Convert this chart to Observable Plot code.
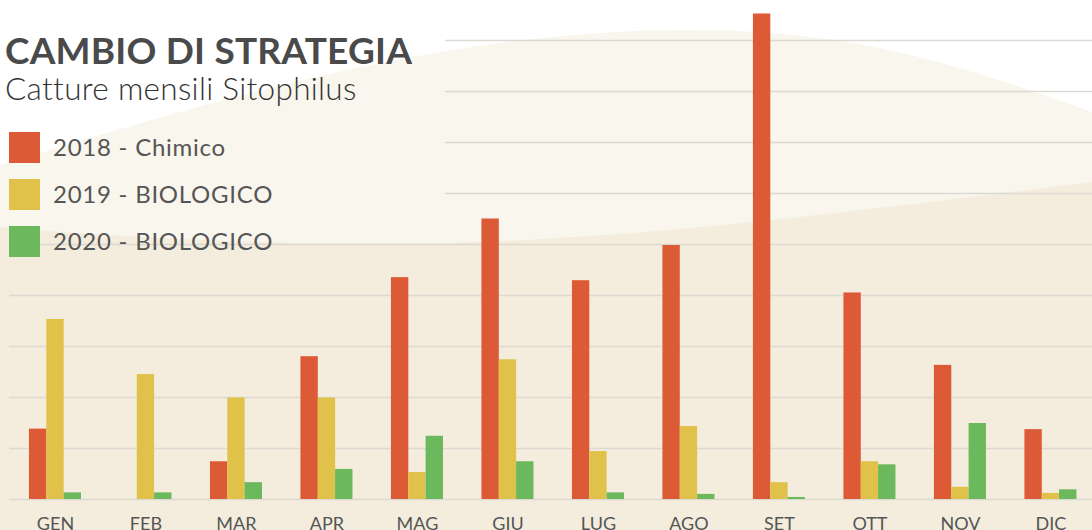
<!DOCTYPE html>
<html>
<head>
<meta charset="utf-8">
<script src="https://cdn.jsdelivr.net/npm/d3@7"></script>
<script src="https://cdn.jsdelivr.net/npm/@observablehq/plot@0.6"></script>
<style>
  html, body { margin: 0; padding: 0; background: #ffffff; }
  #wrap { position: relative; width: 1092px; height: 530px; overflow: hidden; font-family: Lato, "Noto Sans", sans-serif; }
  #bg { position: absolute; left: 0; top: 0; }
  #chart { position: absolute; left: 0; top: 0; }
  .title { position: absolute; left: 5px; top: 30.5px; font-size: 37px; line-height: 37px; font-weight: 700; color: #4a4a4a; white-space: nowrap; letter-spacing: 0.2px; }
  .subtitle { position: absolute; left: 5px; top: 72.5px; font-size: 31.5px; line-height: 31.5px; font-weight: 300; color: #333333; white-space: nowrap; letter-spacing: 0.3px; }
  .legend { position: absolute; left: 9px; top: 132px; }
  .item { position: relative; height: 47px; }
  .sw { position: absolute; left: 0; top: 0; width: 31px; height: 31px; }
  .lab { position: absolute; left: 44px; top: 2.7px; font-size: 24px; line-height: 24px; color: #555555; white-space: nowrap; letter-spacing: 0.75px; }
</style>
</head>
<body>
<div id="wrap">
  <svg id="bg" width="1092" height="530" viewBox="0 0 1092 530">
    <rect x="0" y="0" width="1092" height="530" fill="#ffffff"></rect>
    <path d="M0,165 C180,112 420,32 680,30 C850,28 960,65 1092,112 L1092,530 L0,530 Z" fill="#f9f6ee"></path>
    <path d="M0,227 C150,240 300,245 430,243 C650,240 900,205 1092,182 L1092,530 L0,530 Z" fill="#f4eddd"></path>
  </svg>
  <div id="chart"></div>
  <div class="title">CAMBIO DI STRATEGIA</div>
  <div class="subtitle">Catture mensili Sitophilus</div>
  <div class="legend" id="legend"></div>
</div>
<script>
// Data
const months = ["GEN", "FEB", "MAR", "APR", "MAG", "GIU", "LUG", "AGO", "SET", "OTT", "NOV", "DIC"];
const series = ["2018 - Chimico", "2019 - BIOLOGICO", "2020 - BIOLOGICO"];
const colors = ["#dc5b36", "#e0c24a", "#6cb85c"];
const v2018 = [13.8, 0, 7.4, 28.0, 43.5, 55.0, 42.9, 49.8, 95.2, 40.5, 26.3, 13.7];
const v2019 = [35.3, 24.5, 19.9, 19.9, 5.3, 27.4, 9.4, 14.3, 3.3, 7.4, 2.4, 1.2];
const v2020 = [1.3, 1.3, 3.3, 5.9, 12.4, 7.4, 1.3, 1.0, 0.4, 6.8, 14.9, 1.9];
const gridLow = [0, 10, 20, 30, 40, 50];
const gridHigh = [60, 70, 80, 90];

const toRows = (vals, s) => months.map((m, i) => ({month: m, value: vals[i], series: s}));
const rows = [toRows(v2018, series[0]), toRows(v2019, series[1]), toRows(v2020, series[2])];

const bw = 52;          // group width in px
const bar = bw / 3;

const chart = Plot.plot({
  width: 1092,
  height: 530,
  marginTop: 0,
  marginBottom: 31,
  marginLeft: 9,
  marginRight: 0,
  style: {background: "transparent", fontFamily: "Lato, 'Noto Sans', sans-serif"},
  x: {domain: months, range: [9, 1096.4], paddingInner: 0.425, paddingOuter: 0.2205, round: false, label: null},
  y: {domain: [0, 97.84], axis: null},
  marks: [
    Plot.ruleY(gridLow, {stroke: "#dcd9d2", strokeWidth: 1.5}),
    Plot.ruleY(gridHigh, {stroke: "#dcd9d2", strokeWidth: 1.5, insetLeft: 436}),
    Plot.barY(rows[0], {x: "month", y: "value", fill: colors[0], insetLeft: 0, insetRight: 2 * bar}),
    Plot.barY(rows[1], {x: "month", y: "value", fill: colors[1], insetLeft: bar, insetRight: bar}),
    Plot.barY(rows[2], {x: "month", y: "value", fill: colors[2], insetLeft: 2 * bar, insetRight: 0}),
    Plot.axisX({tickSize: 0, tickPadding: 18, fontSize: 18, fill: "#555555", label: null})
  ]
});
document.getElementById("chart").appendChild(chart);

const legend = document.getElementById("legend");
series.forEach((s, i) => {
  const item = document.createElement("div");
  item.className = "item";
  item.innerHTML = `<div class="sw" style="background:${colors[i]}"></div><div class="lab">${s}</div>`;
  legend.appendChild(item);
});
</script>
</body>
</html>
